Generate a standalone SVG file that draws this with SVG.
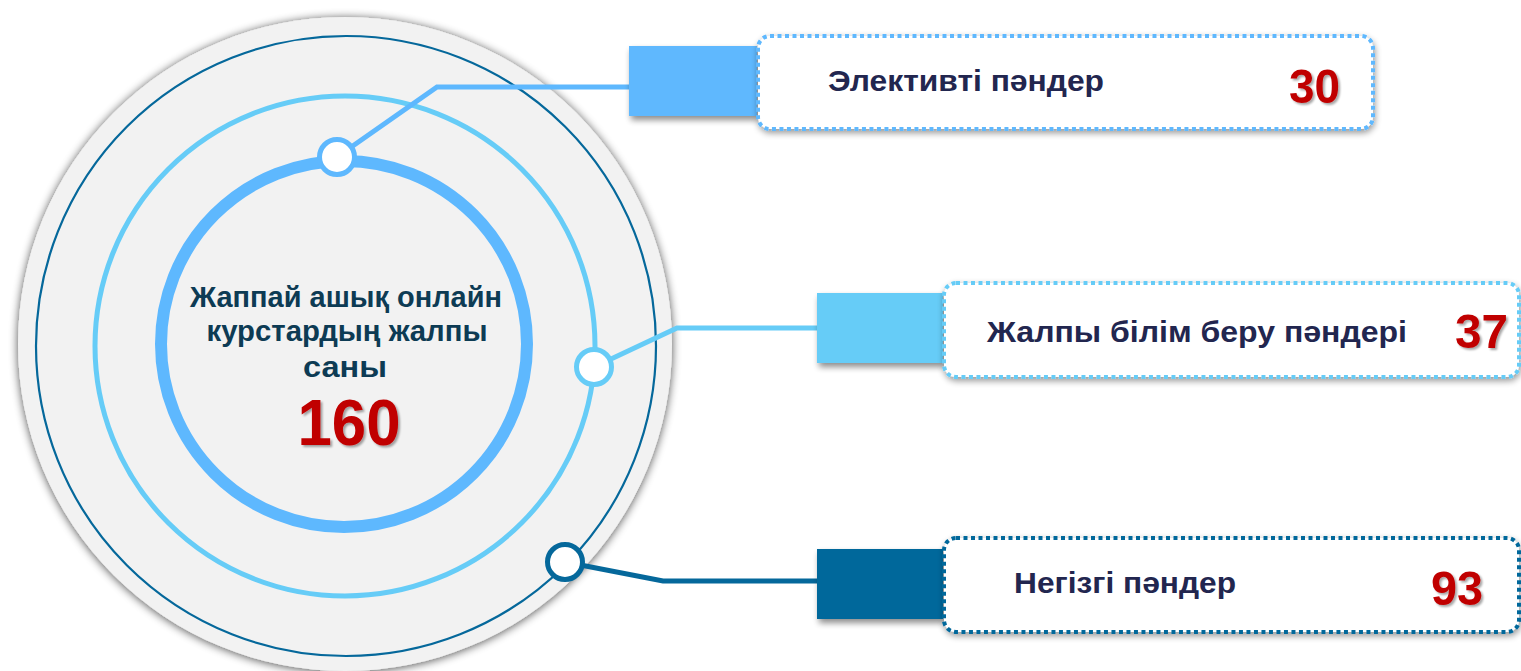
<svg xmlns="http://www.w3.org/2000/svg" width="1521" height="671" viewBox="0 0 1521 671">
<defs>
<filter id="glow" x="-10%" y="-10%" width="120%" height="120%">
<feGaussianBlur in="SourceAlpha" stdDeviation="5"/>
<feOffset dx="0" dy="1" result="b"/>
<feComponentTransfer><feFuncA type="linear" slope="0.7"/></feComponentTransfer>
<feMerge><feMergeNode/><feMergeNode in="SourceGraphic"/></feMerge>
</filter>
<filter id="drop" x="-20%" y="-20%" width="140%" height="150%">
<feGaussianBlur in="SourceAlpha" stdDeviation="3"/>
<feOffset dx="2" dy="4"/>
<feComponentTransfer><feFuncA type="linear" slope="0.45"/></feComponentTransfer>
<feMerge><feMergeNode/><feMergeNode in="SourceGraphic"/></feMerge>
</filter>
<filter id="boxsh" x="-10%" y="-30%" width="120%" height="160%">
<feGaussianBlur in="SourceAlpha" stdDeviation="3"/>
<feOffset dx="1" dy="3"/>
<feComponentTransfer><feFuncA type="linear" slope="0.4"/></feComponentTransfer>
<feMerge><feMergeNode/><feMergeNode in="SourceGraphic"/></feMerge>
</filter>
<filter id="tsh" x="-20%" y="-20%" width="140%" height="140%">
<feGaussianBlur in="SourceAlpha" stdDeviation="1.2"/>
<feOffset dx="2" dy="2"/>
<feComponentTransfer><feFuncA type="linear" slope="0.35"/></feComponentTransfer>
<feMerge><feMergeNode/><feMergeNode in="SourceGraphic"/></feMerge>
</filter>
</defs>
<style>
.lbl{font-family:"Liberation Sans",Arial,sans-serif;font-weight:bold;font-size:30px;fill:#22264F}
.num{font-family:"Liberation Sans",Arial,sans-serif;font-weight:bold;font-size:48px;fill:#C00000}
.ctr{font-family:"Liberation Sans",Arial,sans-serif;font-weight:bold;font-size:30px;fill:#0D3B54}
.box{fill:#FFFFFF;stroke-width:4;stroke-dasharray:4 3.5}
.node{fill:#FFFFFF;stroke-width:5}
.conn{fill:none;stroke-width:5;stroke-linejoin:miter}
</style>
<rect width="1521" height="671" fill="#FFFFFF"/>

<g id="hub">
<circle cx="345" cy="344" r="327" fill="#F2F2F2" filter="url(#glow)"/>
<circle cx="346" cy="346" r="310" fill="none" stroke="#05689B" stroke-width="2.2"/>
<circle cx="345" cy="346" r="250" fill="none" stroke="#66CCF7" stroke-width="5"/>
<circle cx="344" cy="344" r="183" fill="none" stroke="#5EB8FE" stroke-width="12"/>
<text class="ctr" x="346" y="307" text-anchor="middle" textLength="312" lengthAdjust="spacingAndGlyphs">Жаппай ашық онлайн</text>
<text class="ctr" x="347" y="341" text-anchor="middle" textLength="281" lengthAdjust="spacingAndGlyphs">курстардың жалпы</text>
<text class="ctr" x="345" y="377" text-anchor="middle" textLength="84" lengthAdjust="spacingAndGlyphs">саны</text>
<text class="num" x="349" y="445" text-anchor="middle" style="font-size:65px" textLength="103" lengthAdjust="spacingAndGlyphs" filter="url(#tsh)">160</text>
</g>

<g id="connectors">
<polyline class="conn" points="337,157 437,87 632,87" stroke="#5EB8FE"/>
<polyline class="conn" points="594,367 677,328 820,328" stroke="#66CCF7"/>
<polyline class="conn" points="565,562 663,581 820,581" stroke="#05689B"/>
<circle class="node" cx="337" cy="157" r="17.5" stroke="#5EB8FE"/>
<circle class="node" cx="594" cy="367" r="17.5" stroke="#66CCF7"/>
<circle class="node" cx="565" cy="562" r="17.5" stroke="#05689B"/>
</g>

<g id="item1">
<rect x="629" y="46" width="128" height="70" fill="#5EB8FE" filter="url(#drop)"/>
<rect class="box" x="758" y="36" width="615" height="93" rx="12" stroke="#5EB8FE" filter="url(#boxsh)"/>
<text class="lbl" x="828" y="91" textLength="276" lengthAdjust="spacingAndGlyphs">Элективті пәндер</text>
<text class="num" x="1289" y="103" textLength="51" lengthAdjust="spacingAndGlyphs" filter="url(#tsh)">30</text>
</g>

<g id="item2">
<rect x="817" y="293" width="126" height="70" fill="#66CCF7" filter="url(#drop)"/>
<rect class="box" x="944" y="283" width="575" height="94" rx="12" stroke="#66CCF7" filter="url(#boxsh)"/>
<text class="lbl" x="987" y="342" textLength="420" lengthAdjust="spacingAndGlyphs">Жалпы білім беру пәндері</text>
<text class="num" x="1455" y="348" textLength="53" lengthAdjust="spacingAndGlyphs" filter="url(#tsh)">37</text>
</g>

<g id="item3">
<rect x="817" y="549" width="126" height="70" fill="#05689B" filter="url(#drop)"/>
<rect class="box" x="944" y="538" width="575" height="94" rx="12" stroke="#05689B" filter="url(#boxsh)"/>
<text class="lbl" x="1014" y="593" textLength="222" lengthAdjust="spacingAndGlyphs">Негізгі пәндер</text>
<text class="num" x="1431" y="605" textLength="52" lengthAdjust="spacingAndGlyphs" filter="url(#tsh)">93</text>
</g>
</svg>
